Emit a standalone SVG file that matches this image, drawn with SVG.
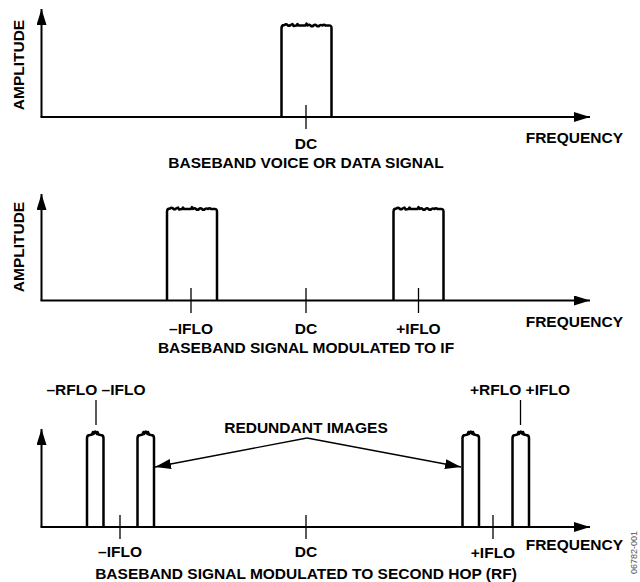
<svg xmlns="http://www.w3.org/2000/svg" width="640" height="582" viewBox="0 0 640 582">
<style>
.t{font-family:"Liberation Sans",Arial,sans-serif;font-weight:bold;font-size:15.5px;fill:#000}
.n{font-family:"Liberation Sans",Arial,sans-serif;font-size:9px;fill:#555}
.ax{stroke:#000;stroke-width:2;fill:none}
.tk{stroke:#000;stroke-width:1.3;fill:none}
.bx{stroke:#000;stroke-width:2.5;fill:none;stroke-linejoin:round}
.ah{fill:#000;stroke:none}
</style>
<defs>
<path id="wide" d="M0,93 V4 Q0,1 3,1 q1.5,-1.5 3,0 q1.5,1.5 3,0 l2,-1 l1,2 q1.5,-0.5 3,-0.5 l1,-1.5 l1,1.5 q2,0 4,0 l3,0 l1,-2 l1,2 q1.5,-1.5 3,0 q1.5,1.5 3,0 q1.5,-1.5 3,0 q1.5,1.5 3,0 q1.5,-1 3,0 q1.5,-1.5 3,0 l3,0 Q50,1 50,4 V93"/>
<path id="narrow" d="M0,93 V4 Q0,1 3,1 L5,0.5 L6,-2 L6.5,0 L8.25,-2.5 L10,0 L10.5,-2 L11.5,0.5 L13.5,1 Q16.5,1 16.5,4 V93"/>
<marker id="arr" viewBox="0 0 16 10" refX="16" refY="5" markerWidth="16" markerHeight="10" markerUnits="userSpaceOnUse" orient="auto">
<path d="M0,0 L16,5 L0,10 Z" class="ah"/>
</marker>
</defs>

<g id="panel1">
<g id="axes1">
<line class="ax" x1="41.5" y1="117" x2="41.5" y2="9" marker-end="url(#arr)"/>
<line class="ax" x1="40.5" y1="117" x2="590" y2="117" marker-end="url(#arr)"/>
</g>
<g id="signal1"><use href="#wide" class="bx" transform="translate(281.5,24)"/></g>
<g id="tick1"><line class="tk" x1="306" y1="105" x2="306" y2="129"/></g>
<text class="t" transform="translate(24,65) rotate(-90)" text-anchor="middle">AMPLITUDE</text>
<text class="t" x="306" y="149" text-anchor="middle">DC</text>
<text class="t" x="623" y="143" text-anchor="end">FREQUENCY</text>
<text class="t" x="306" y="168" text-anchor="middle">BASEBAND VOICE OR DATA SIGNAL</text>
</g>

<g id="panel2">
<g id="axes2">
<line class="ax" x1="41.5" y1="300.5" x2="41.5" y2="194" marker-end="url(#arr)"/>
<line class="ax" x1="40.5" y1="300.5" x2="590" y2="300.5" marker-end="url(#arr)"/>
</g>
<g id="signal2a"><use href="#wide" class="bx" transform="translate(167,207.5)"/></g>
<g id="signal2b"><use href="#wide" class="bx" transform="translate(393.5,207.5)"/></g>
<g id="ticks2">
<line class="tk" x1="191" y1="288" x2="191" y2="313"/>
<line class="tk" x1="306" y1="288" x2="306" y2="313"/>
<line class="tk" x1="418.5" y1="288" x2="418.5" y2="313"/>
</g>
<text class="t" transform="translate(24,247) rotate(-90)" text-anchor="middle">AMPLITUDE</text>
<text class="t" x="191" y="334" text-anchor="middle">–IFLO</text>
<text class="t" x="306" y="334" text-anchor="middle">DC</text>
<text class="t" x="418.5" y="334" text-anchor="middle">+IFLO</text>
<text class="t" x="623" y="327" text-anchor="end">FREQUENCY</text>
<text class="t" x="306" y="353" text-anchor="middle">BASEBAND SIGNAL MODULATED TO IF</text>
</g>

<g id="panel3">
<g id="axes3">
<line class="ax" x1="41.5" y1="527" x2="41.5" y2="429" marker-end="url(#arr)"/>
<line class="ax" x1="40.5" y1="527" x2="590" y2="527" marker-end="url(#arr)"/>
</g>
<g id="img1"><use href="#narrow" class="bx" transform="translate(87,434)"/></g>
<g id="img2"><use href="#narrow" class="bx" transform="translate(137.5,434)"/></g>
<g id="img3"><use href="#narrow" class="bx" transform="translate(462.5,434)"/></g>
<g id="img4"><use href="#narrow" class="bx" transform="translate(512.5,434)"/></g>
<g id="ticks3">
<line class="tk" x1="120" y1="515" x2="120" y2="539"/>
<line class="tk" x1="306" y1="515" x2="306" y2="539"/>
<line class="tk" x1="493" y1="515" x2="493" y2="539"/>
</g>
<g id="connectors">
<line class="tk" x1="96" y1="400" x2="96" y2="425"/>
<line class="tk" x1="520.5" y1="400" x2="520.5" y2="425"/>
<line class="tk" x1="307" y1="438" x2="155" y2="467" marker-end="url(#arr)"/>
<line class="tk" x1="307" y1="438" x2="461" y2="467" marker-end="url(#arr)"/>
</g>
<text class="t" x="96" y="395" text-anchor="middle">–RFLO –IFLO</text>
<text class="t" x="520" y="395" text-anchor="middle">+RFLO +IFLO</text>
<text class="t" x="306" y="433" text-anchor="middle">REDUNDANT IMAGES</text>
<text class="t" x="120" y="557" text-anchor="middle">–IFLO</text>
<text class="t" x="306" y="557" text-anchor="middle">DC</text>
<text class="t" x="493" y="558" text-anchor="middle">+IFLO</text>
<text class="t" x="623" y="550" text-anchor="end">FREQUENCY</text>
<text class="t" x="306" y="579" text-anchor="middle">BASEBAND SIGNAL MODULATED TO SECOND HOP (RF)</text>
<text class="n" transform="translate(637,531) rotate(-90)" text-anchor="end">06782-001</text>
</g>
</svg>
